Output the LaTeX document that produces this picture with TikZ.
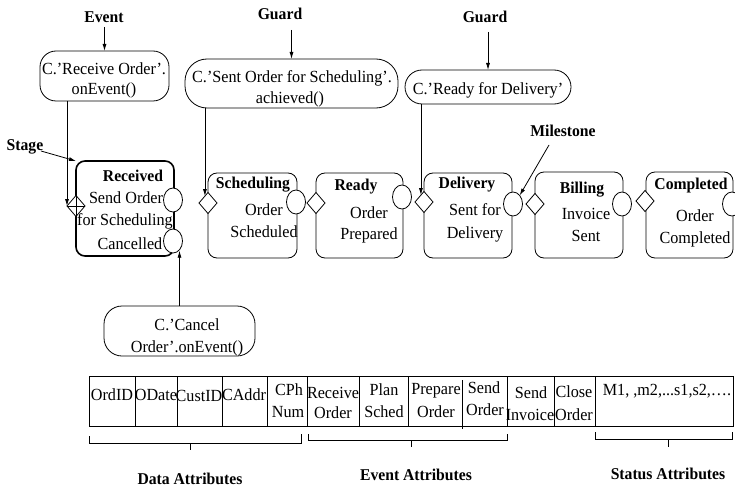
\documentclass[tikz,border=0pt]{standalone}
\usepackage{fontspec}
\setmainfont{Liberation Serif}[FakeStretch=0.95]
\usetikzlibrary{shapes.geometric,arrows.meta}
\newcommand{\basefont}{\fontsize{17}{20}\selectfont}
\newcommand{\boldbase}{\fontsize{16.5}{20}\selectfont\bfseries}
\tikzset{
  stagebox/.style={draw, rounded corners=9pt, inner sep=0pt, outer sep=0pt},
  thickbox/.style={stagebox, line width=1.6pt},
  pill/.style={draw, inner sep=0pt, outer sep=0pt},
  gate/.style={draw, diamond, fill=white, minimum width=18pt, minimum height=21pt, inner sep=0pt, outer sep=0pt},
  mile/.style={draw, ellipse, fill=white, minimum width=19pt, minimum height=24pt, inner sep=0pt, outer sep=0pt},
  txt/.style={inner sep=0pt, anchor=base, font=\basefont},
  lbl/.style={txt, font=\boldbase},
  arr/.style={-{Latex[length=7pt,width=4pt]}},
}
\begin{document}
\begin{tikzpicture}[x=1pt,y=-1pt,line width=0.8pt]
\useasboundingbox (0,0) rectangle (735,489);

% ---------- stage boxes ----------
\node[thickbox, minimum width=98pt, minimum height=95pt] (sRec) at (125,208.5) {};
\node[stagebox, minimum width=89pt, minimum height=85pt] (sSch) at (252.5,215.5) {};
\node[stagebox, minimum width=87pt, minimum height=85pt] (sRdy) at (359.5,215.5) {};
\node[stagebox, minimum width=88pt, minimum height=85pt] (sDel) at (468,215.5) {};
\node[stagebox, minimum width=88pt, minimum height=86pt] (sBil) at (579,215) {};
\node[stagebox, minimum width=87pt, minimum height=86pt] (sCom) at (689.5,215) {};

% ---------- guards (diamonds) ----------
\node[gate] (gRec) at (76,206) {};
\draw (gRec.north) -- (gRec.south) (gRec.west) -- (gRec.east);
\node[gate] (gSch) at (208,203) {};
\node[gate] (gRdy) at (316,203) {};
\node[gate] (gDel) at (424,202) {};
\node[gate] (gBil) at (535,204) {};
\node[gate] (gCom) at (645,201) {};

% ---------- milestones (ellipses) ----------
\node[mile] (eRecA) at (173,200) {};
\node[mile] (eRecB) at (173,241) {};
\node[mile] (eSch) at (296,202) {};
\node[mile] (eRdy) at (402,197) {};
\node[mile] (eDel) at (513,204) {};
\node[mile] (eBil) at (622,204) {};
\node[mile] (eCom) at (732,204) {};

% ---------- stage texts ----------
\node[lbl] (tRec1) at (133,182) {Received};
\node[txt] (tRec2) at (126,203) {Send Order};
\node[txt] (tRec3) at (125,225) {for Scheduling};
\node[txt] (tRec4) at (130,249) {Cancelled};

\node[lbl] (tSch1) at (253,188.5) {Scheduling};
\node[txt] (tSch2) at (264,215) {Order};
\node[txt] (tSch3) at (264,237) {Scheduled};

\node[lbl] (tRdy1) at (356,190.5) {Ready};
\node[txt] (tRdy2) at (369,218.5) {Order};
\node[txt] (tRdy3) at (369,239.5) {Prepared};

\node[lbl] (tDel1) at (467,188.5) {Delivery};
\node[txt] (tDel2) at (475,215.5) {Sent for};
\node[txt] (tDel3) at (475,238) {Delivery};

\node[lbl] (tBil1) at (582,193) {Billing};
\node[txt] (tBil2) at (586,219.5) {Invoice};
\node[txt] (tBil3) at (586,241) {Sent};

\node[lbl] (tCom1) at (691,189.5) {Completed};
\node[txt] (tCom2) at (695,221.5) {Order};
\node[txt] (tCom3) at (695,243) {Completed};

% ---------- condition nodes ----------
\node[pill, rounded corners=16pt, minimum width=129pt, minimum height=50pt] (nRecv) at (104.5,76) {};
\node[txt] (tRecv1) at (104,75) {C.'Receive Order'.};
\node[txt] (tRecv2) at (104,95) {onEvent()};

\node[pill, rounded corners=22pt, minimum width=213pt, minimum height=49pt] (nSent) at (291.5,83.5) {};
\node[txt] (tSent1) at (292,82.5) {C.'Sent Order for Scheduling'.};
\node[txt] (tSent2) at (290,104) {achieved()};

\node[pill, rounded corners=17pt, minimum width=166pt, minimum height=34pt] (nDel) at (488,87) {};
\node[txt] (tDelv) at (488,94.5) {C.'Ready for Delivery'};

\node[pill, rounded corners=18pt, minimum width=151pt, minimum height=50pt] (nCan) at (179.5,331) {};
\node[txt] (tCan1) at (187,330) {C.'Cancel};
\node[txt] (tCan2) at (187,352) {Order'.onEvent()};

% ---------- top labels ----------
\node[lbl] (lEv) at (104,22.7) {Event};
\node[lbl] (lG1) at (280,19.3) {Guard};
\node[lbl] (lG2) at (485,23) {Guard};
\node[lbl] (lSt) at (25,150) {Stage};
\node[lbl] (lMs) at (563,136.7) {Milestone};

\coordinate (evS) at (104.5,27);
\coordinate (g1S) at (291.5,30);
\coordinate (g2S) at (488,32);
\coordinate (stS) at (41,151);
\coordinate (msS) at (549,145);

% ---------- connectors ----------
\draw[arr] (evS) -- (nRecv.north);
\draw[arr] (g1S) -- (nSent.north);
\draw[arr] (g2S) -- (nDel.north);
\draw[arr] (stS) -- (sRec.north west);
\draw[arr] (msS) -- (eDel.52);
\draw[arr] (gRec.west |- nRecv.south) -- (gRec.west);
\draw[arr] (gSch.114 |- nSent.south) -- (gSch.114);
\draw[arr] (gDel.114 |- nDel.south) -- (gDel.114);
\draw[arr] (nCan.north) -- (nCan.north |- eRecB.300);

% ---------- attribute table ----------
\draw (89,376) rectangle (733,426);
\foreach \xx in {135,177,222,267,307,359,408,507,554,595}
  \draw (\xx,376) -- (\xx,426);
\draw (462,380) -- (462,429);

\node[txt] (cOrd) at (112,400) {OrdID};
\node[txt] (cODa) at (156,400) {ODate};
\node[txt] (cCus) at (199,401) {CustID};
\node[txt] (cCAd) at (244,400) {CAddr};
\node[txt] (cCPh1) at (289,395) {CPh};
\node[txt] (cCPh2) at (288,417) {Num};
\node[txt] (cRo1) at (333,398) {Receive};
\node[txt] (cRo2) at (333,418.5) {Order};
\node[txt] (cPs1) at (384,395) {Plan};
\node[txt] (cPs2) at (384,417) {Sched};
\node[txt] (cPo1) at (436,394.5) {Prepare};
\node[txt] (cPo2) at (436,417) {Order};
\node[txt] (cSo1) at (484,393) {Send};
\node[txt] (cSo2) at (485,415) {Order};
\node[txt] (cSi1) at (531,398) {Send};
\node[txt] (cSi2) at (530,420) {Invoice};
\node[txt] (cCo1) at (574,397) {Close};
\node[txt] (cCo2) at (574,420) {Order};
\node[txt] (cSt) at (667,395.5) {M1, ,m2,...s1,s2,….};

% ---------- brackets ----------
\draw (89,436) -- (89,443) -- (301,443) -- (301,434);
\draw (190,443) -- (190,450);
\draw (308,434) -- (308,440) -- (507,440) -- (507,434);
\draw (411,440) -- (411,447);
\draw (595,432) -- (595,439) -- (732,439) -- (732,432);
\draw (668,439) -- (668,447);

\node[lbl] (lData) at (190,484.5) {Data Attributes};
\node[lbl] (lEvt) at (416,480.5) {Event Attributes};
\node[lbl] (lStat) at (668,479) {Status Attributes};
\end{tikzpicture}
\end{document}
